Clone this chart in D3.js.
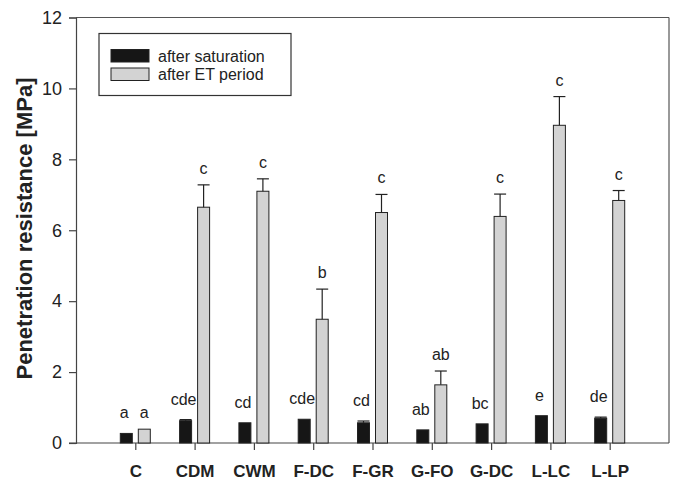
<!DOCTYPE html>
<html>
<head>
<meta charset="utf-8">
<script src="https://cdn.jsdelivr.net/npm/d3@7"></script>
<style>
  body { margin: 0; background: #fff; }
  text { font-family: Arial, "Liberation Sans", sans-serif; fill: #222; }
</style>
</head>
<body>
<svg id="chart" width="676" height="481"></svg>
<script>
// categories and values
var categories = ["C", "CDM", "CWM", "F-DC", "F-GR", "G-FO", "G-DC", "L-LC", "L-LP"];
var satMean = [0.27, 0.63, 0.57, 0.67, 0.57, 0.37, 0.54, 0.77, 0.70];
var satErr  = [0.00, 0.03, 0.00, 0.00, 0.05, 0.00, 0.00, 0.00, 0.03];
var etMean  = [0.39, 6.65, 7.10, 3.49, 6.50, 1.64, 6.39, 8.96, 6.84];
var etErr   = [0.00, 0.63, 0.35, 0.85, 0.51, 0.39, 0.63, 0.81, 0.28];
var satLetters = ["a", "cde", "cd", "cde", "cd", "ab", "bc", "e", "de"];
var etLetters  = ["a", "c", "c", "b", "c", "ab", "c", "c", "c"];
var yTicks = [0, 2, 4, 6, 8, 10, 12];
var seriesNames = ["after saturation", "after ET period"];

var svg = d3.select("#chart");
var pLeft = 76, pRight = 669, pTop = 17.5, pBottom = 443;

var x = d3.scaleLinear().domain([0, categories.length + 1]).range([pLeft, pRight]);
var y = d3.scaleLinear().domain([0, 12]).range([pBottom, pTop]);

var barW = 12, off = 9;

// frame: top and right lines
svg.append("line").attr("x1", pLeft).attr("x2", pRight).attr("y1", pTop).attr("y2", pTop)
  .attr("stroke", "#555").attr("stroke-width", 1.2);
svg.append("line").attr("x1", pRight).attr("x2", pRight).attr("y1", pTop).attr("y2", pBottom)
  .attr("stroke", "#555").attr("stroke-width", 1.2);

// y axis
var yAxis = svg.append("g").attr("transform", "translate(" + pLeft + ",0)")
  .call(d3.axisLeft(y).tickValues(yTicks).tickSize(7).tickPadding(7).tickFormat(d3.format("d")));
yAxis.select(".domain").attr("stroke", "#444").attr("stroke-width", 1.2);
yAxis.selectAll(".tick line").attr("stroke", "#444").attr("stroke-width", 1.2);
yAxis.selectAll(".tick text").attr("font-size", 18).attr("fill", "#222");

// x axis
var xAxis = svg.append("g").attr("transform", "translate(0," + pBottom + ")")
  .call(d3.axisBottom(x).tickValues(d3.range(1, categories.length + 1)).tickSize(7).tickPadding(15)
    .tickFormat(function(d) { return categories[d - 1]; }));
xAxis.select(".domain").attr("d", "M" + (pLeft - 7) + ",0H" + pRight).attr("stroke", "#444").attr("stroke-width", 1.2);
xAxis.selectAll(".tick line").attr("stroke", "#444").attr("stroke-width", 1.2);
xAxis.selectAll(".tick text").attr("font-size", 17).attr("font-weight", "bold").attr("fill", "#222");

// bars
var rows = categories.map(function(c, i) {
  return { i: i, sat: satMean[i], satE: satErr[i], et: etMean[i], etE: etErr[i],
           satL: satLetters[i], etL: etLetters[i] };
});

var series = [
  { key: "sat", err: "satE", lab: "satL", dx: -off, fill: "#161616", lshift: -2 },
  { key: "et", err: "etE", lab: "etL", dx: off, fill: "#d3d3d3", lshift: 0 }
];

series.forEach(function(s) {
  var g = svg.append("g");
  g.selectAll("rect").data(rows).enter().append("rect")
    .attr("x", function(d) { return x(d.i + 1) + s.dx - barW / 2; })
    .attr("y", function(d) { return y(d[s.key]); })
    .attr("width", barW)
    .attr("height", function(d) { return y(0) - y(d[s.key]); })
    .attr("fill", s.fill).attr("stroke", "#222").attr("stroke-width", 1);

  var eb = rows.filter(function(d) { return d[s.err] > 0; });
  g.selectAll("line.v").data(eb).enter().append("line")
    .attr("x1", function(d) { return x(d.i + 1) + s.dx; })
    .attr("x2", function(d) { return x(d.i + 1) + s.dx; })
    .attr("y1", function(d) { return y(d[s.key]); })
    .attr("y2", function(d) { return y(d[s.key] + d[s.err]); })
    .attr("stroke", "#222").attr("stroke-width", 1.2);
  g.selectAll("line.c").data(eb).enter().append("line")
    .attr("x1", function(d) { return x(d.i + 1) + s.dx - 6; })
    .attr("x2", function(d) { return x(d.i + 1) + s.dx + 6; })
    .attr("y1", function(d) { return y(d[s.key] + d[s.err]); })
    .attr("y2", function(d) { return y(d[s.key] + d[s.err]); })
    .attr("stroke", "#222").attr("stroke-width", 1.2);

  g.selectAll("text").data(rows).enter().append("text")
    .attr("x", function(d) { return x(d.i + 1) + s.dx + s.lshift; })
    .attr("y", function(d) { return y(d[s.key] + d[s.err]) - (s.key == "sat" ? 15 : 11); })
    .attr("text-anchor", "middle").attr("font-size", 16)
    .text(function(d) { return d[s.lab]; });
});

// y title
svg.append("text")
  .attr("transform", "translate(32,228.5) rotate(-90)")
  .attr("text-anchor", "middle").attr("font-size", 22).attr("font-weight", "bold")
  .text("Penetration resistance [MPa]");

// legend
var lg = svg.append("g").attr("transform", "translate(99,33.5)");
lg.append("rect").attr("width", 192).attr("height", 62)
  .attr("fill", "#fff").attr("stroke", "#333").attr("stroke-width", 1.2);
seriesNames.forEach(function(n, i) {
  lg.append("rect").attr("x", 12).attr("y", 16 + i * 18.5).attr("width", 38).attr("height", 12.5)
    .attr("fill", series[i].fill).attr("stroke", "#222").attr("stroke-width", 1);
  lg.append("text").attr("x", 59).attr("y", 28 + i * 18.5).attr("font-size", 16).text(n);
});
</script>
</body>
</html>
